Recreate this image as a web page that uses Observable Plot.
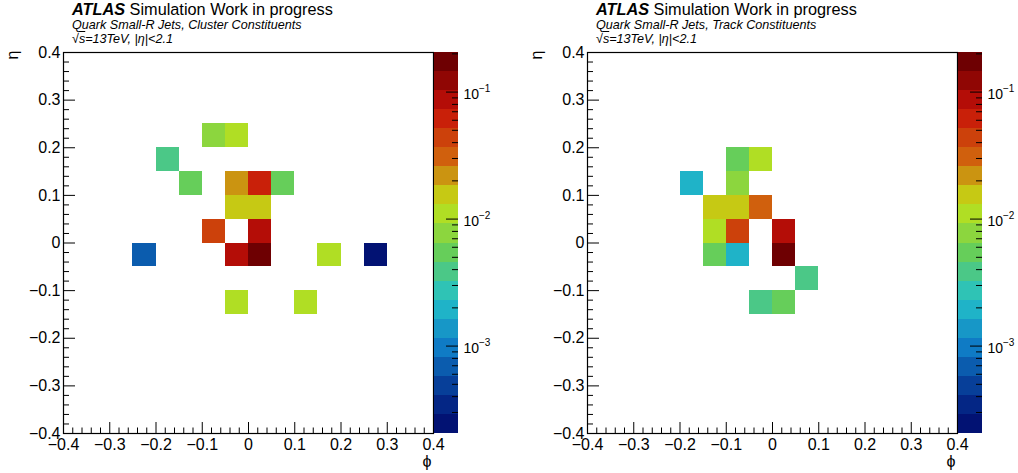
<!DOCTYPE html>
<html>
<head>
<meta charset="utf-8">
<script src="https://cdn.jsdelivr.net/npm/d3@7"></script>
<script src="https://cdn.jsdelivr.net/npm/@observablehq/plot@0.6"></script>
<style>
  body { margin: 0; background: #fff; }
  #root { position: relative; width: 1018px; height: 473px; overflow: hidden; font-family: "Liberation Sans", Arial, sans-serif; color: #000; }
  .abs { position: absolute; white-space: nowrap; }
  .title { font-size: 16.3px; line-height: 1; }
  .sub { font-size: 12.6px; line-height: 1; font-style: italic; }
  .axlab { font-size: 16px; width: 20px; height: 20px; line-height: 20px; text-align: center; }
</style>
</head>
<body>
<div id="root"></div>
<script>
// ---------------- data ----------------
const binWidth = 0.05;
const axisTicks = [-0.4, -0.3, -0.2, -0.1, 0, 0.1, 0.2, 0.3, 0.4];
const zRange = [0.000205, 0.205];
const nContours = 20;
const cbTicks = [0.001, 0.01, 0.1];
const cbExponents = ["\u22123", "\u22122", "\u22121"];

// Cluster constituents (left): bin centres in phi / eta, and bin contents
const clusterPhi = [-0.075, -0.025, -0.175, -0.125, -0.025, 0.025, 0.075, -0.025, 0.025, -0.075, 0.025, -0.225, -0.025, 0.025, 0.175, 0.275, -0.025, 0.125];
const clusterEta = [0.225, 0.225, 0.175, 0.125, 0.125, 0.125, 0.125, 0.075, 0.075, 0.025, 0.025, -0.025, -0.025, -0.025, -0.025, -0.025, -0.125, -0.125];
const clusterVal = [0.0078, 0.0108, 0.0039, 0.0054, 0.022, 0.062, 0.0055, 0.0152, 0.0158, 0.044, 0.085, 0.00069, 0.088, 0.19, 0.0106, 0.00024, 0.0110, 0.0104];

// Track constituents (right)
const trackPhi = [-0.075, -0.025, -0.175, -0.075, -0.125, -0.075, -0.025, -0.125, -0.075, 0.025, -0.125, -0.075, 0.025, 0.075, -0.025, 0.025];
const trackEta = [0.175, 0.175, 0.125, 0.125, 0.075, 0.075, 0.075, 0.025, 0.025, 0.025, -0.025, -0.025, -0.025, -0.075, -0.125, -0.125];
const trackVal = [0.0055, 0.0108, 0.0019, 0.0078, 0.0152, 0.0156, 0.031, 0.0106, 0.044, 0.086, 0.0054, 0.0019, 0.19, 0.0039, 0.0040, 0.0056];

const subTitles = ["Quark Small-R Jets, Cluster Constituents", "Quark Small-R Jets, Track Constituents"];

// ---------------- palette (ROOT kRainBow) ----------------
const rbStops = [0, 0.125, 0.25, 0.375, 0.5, 0.625, 0.75, 0.875, 1];
const rbR = [0, 5, 15, 35, 102, 196, 208, 199, 110];
const rbG = [0, 48, 124, 192, 206, 226, 97, 16, 0];
const rbB = [99, 142, 198, 201, 90, 22, 13, 8, 2];
function rainbow(t) {
  let s = 0;
  while (s < rbStops.length - 2 && t > rbStops[s + 1]) s++;
  const f = (t - rbStops[s]) / (rbStops[s + 1] - rbStops[s]);
  const c = (a) => Math.round(a[s] + f * (a[s + 1] - a[s]));
  return d3.rgb(c(rbR), c(rbG), c(rbB)).formatHex();
}
const bandColors = d3.range(nContours).map(i => rainbow(Math.floor((i + 0.99) * 255 / nContours) / 254));
const logSpan = Math.log10(zRange[1] / zRange[0]);
const bandEdges = d3.range(nContours + 1).map(k => zRange[0] * Math.pow(10, logSpan * k / nContours));
const thresholds = bandEdges.slice(1, nContours);

const FONT = '"Liberation Sans", Arial, sans-serif';
const minorTicks = d3.range(-20, 21).filter(k => k % 5 !== 0).map(k => k / 50);
const tickFmt = d3.format("~g");

function panel(phi, eta, val) {
  const cells = phi.map((p, i) => ({
    x1: p - binWidth / 2, x2: p + binWidth / 2,
    y1: eta[i] - binWidth / 2, y2: eta[i] + binWidth / 2, v: val[i]
  }));
  const W = 450, H = 473, mL = 63, mR = 17, mT = 52, mB = 40;
  const pxX = 0.8 / (W - mL - mR), pxY = 0.8 / (H - mT - mB);
  return Plot.plot({
    width: W, height: H, marginLeft: mL, marginRight: mR, marginTop: mT, marginBottom: mB,
    style: { fontFamily: FONT, fontSize: "16px", color: "#000", background: "transparent", overflow: "visible" },
    x: { domain: [-0.4, 0.4], axis: null },
    y: { domain: [-0.4, 0.4], axis: null },
    color: { type: "threshold", domain: thresholds, range: bandColors },
    marks: [
      Plot.rect(cells, { x1: "x1", x2: "x2", y1: "y1", y2: "y2", fill: "v", inset: 0, shapeRendering: "crispEdges" }),
      Plot.ruleX(axisTicks, { x: d => d, y1: -0.4, y2: -0.4 + 11 * pxY, stroke: "#000", strokeWidth: 1 }),
      Plot.ruleX(minorTicks, { x: d => d, y1: -0.4, y2: -0.4 + 5.5 * pxY, stroke: "#000", strokeWidth: 1 }),
      Plot.ruleY(axisTicks, { y: d => d, x1: -0.4, x2: -0.4 + 12 * pxX, stroke: "#000", strokeWidth: 1 }),
      Plot.ruleY(minorTicks, { y: d => d, x1: -0.4, x2: -0.4 + 6 * pxX, stroke: "#000", strokeWidth: 1 }),
      Plot.axisX(axisTicks, { anchor: "bottom", tickSize: 0, tickPadding: 5, fontSize: 16, label: null, tickFormat: tickFmt }),
      Plot.axisY(axisTicks, { anchor: "left", tickSize: 0, tickPadding: 3, fontSize: 16, label: null, tickFormat: tickFmt }),
      Plot.frame({ stroke: "#000", strokeWidth: 1.2 })
    ]
  });
}

function colorbar() {
  const W = 60, H = 473, mT = 52, mB = 40, cbW = 24;
  const minor = [];
  for (let e = -4; e <= -1; e++) for (let k = 2; k <= 9; k++) {
    const v = k * Math.pow(10, e);
    if (v > zRange[0] && v < zRange[1]) minor.push(v);
  }
  const bands = d3.range(nContours);
  return Plot.plot({
    width: W, height: H, marginLeft: 0, marginRight: W - cbW, marginTop: mT, marginBottom: mB,
    style: { fontFamily: FONT, fontSize: "14px", color: "#000", background: "transparent", overflow: "visible" },
    x: { domain: [0, cbW], axis: null },
    y: { type: "log", domain: zRange, axis: null },
    marks: [
      Plot.rect(bands, { x1: 0, x2: cbW, y1: i => bandEdges[i], y2: i => bandEdges[i + 1], fill: i => bandColors[i], shapeRendering: "crispEdges" }),
      Plot.ruleY(cbTicks, { y: d => d, x1: cbW - 12, x2: cbW, stroke: "#000" }),
      Plot.ruleY(minor, { y: d => d, x1: cbW - 6, x2: cbW, stroke: "#000" }),
      Plot.text(cbTicks, { y: d => d, x: cbW, text: () => "10", dx: 5, dy: 2, textAnchor: "start", fontSize: 14, fill: "#000" }),
      Plot.text(cbTicks, { y: d => d, x: cbW, text: (d, i) => cbExponents[i], dx: 20.5, dy: -3.5, textAnchor: "start", fontSize: 10, fill: "#000" })
    ]
  });
}

const root = document.getElementById("root");
function place(el, left, top) {
  el.style.position = "absolute";
  el.style.left = left + "px";
  el.style.top = top + "px";
  root.appendChild(el);
}
function html(cls, left, top, inner) {
  const d = document.createElement("div");
  d.className = "abs " + cls;
  d.style.left = left + "px";
  d.style.top = top + "px";
  d.innerHTML = inner;
  root.appendChild(d);
  return d;
}

const panels = [[clusterPhi, clusterEta, clusterVal], [trackPhi, trackEta, trackVal]];
panels.forEach((p, k) => {
  const off = k * 524;
  place(panel(p[0], p[1], p[2]), off, 0);
  place(colorbar(), off + 434, 0);
  html("title", off + 72, 1.2, '<b><i>ATLAS</i></b> Simulation Work in progress');
  html("sub", off + 72, 18.8, subTitles[k]);
  html("sub", off + 72, 32.8, '\u221A<span style="text-decoration:overline">s</span>=13TeV, |\u03B7|&lt;2.1');
  const eta = html("axlab", off + 2.5, 44.5, "\u03B7");
  eta.style.transform = "rotate(-90deg)";
  html("axlab", off + 417, 452, "\u03D5");
});
</script>
</body>
</html>
